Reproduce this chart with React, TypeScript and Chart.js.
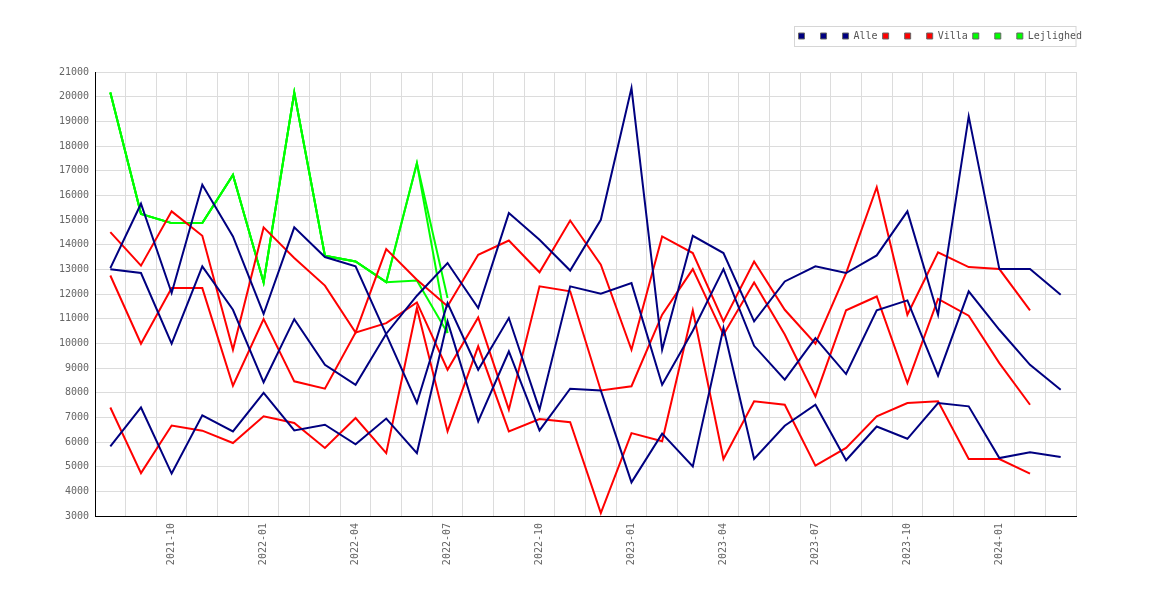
import { useEffect, useRef } from 'react'
import { Chart, registerables } from 'chart.js'

Chart.register(...registerables)

Chart.defaults.font.family = "'DejaVu Sans Mono', monospace"
Chart.defaults.font.size = 10

const MONTHS = [
  '2021-08', '2021-09', '2021-10', '2021-11', '2021-12',
  '2022-01', '2022-02', '2022-03', '2022-04', '2022-05', '2022-06',
  '2022-07', '2022-08', '2022-09', '2022-10', '2022-11', '2022-12',
  '2023-01', '2023-02', '2023-03', '2023-04', '2023-05', '2023-06',
  '2023-07', '2023-08', '2023-09', '2023-10', '2023-11', '2023-12',
  '2024-01', '2024-02', '2024-03',
]
const LABEL_MONTHS = ['01', '04', '07', '10']

const ALLE_1 = [
  13050, 15660, 12040, 16430, 14335, 11190, 14700, 13500, 13120, 10360, 7580,
  11630, 8930, 11025, 7310, 12310, 12010, 12440, 8320, 10510, 13010, 9900,
  8530, 10210, 8755, 11340, 11740, 8690, 12110, 10550, 9130, 8120,
]
const ALLE_2 = [
  13000, 12850, 9985, 13120, 11360, 8420, 10980, 9130, 8320, 10390, 11930,
  13255, 11430, 15280, 14200, 12950, 15010, 20350, 9740, 14360, 13660, 10890,
  12510, 13120, 12850, 13565, 15350, 11160, 19200, 13010, 13010, 11970,
]
const ALLE_3 = [
  5820, 7400, 4720, 7080, 6430, 7990, 6470, 6700, 5910, 6950, 5550,
  10890, 6840, 9670, 6470, 8160, 8090, 4365, 6340, 5010, 10620, 5310,
  6660, 7510, 5260, 6630, 6130, 7580, 7445, 5350, 5580, 5390,
]
const VILLA_1 = [
  14510, 13150, 15350, 14360, 9740, 14700, 13460, 12340, 10440, 13820, 12580,
  11500, 13590, 14170, 12880, 14980, 13190, 9740, 14335, 13660, 10890, 13320,
  11360, 9985, 12850, 16330, 11160, 13690, 13090, 13010, 11340, null,
]
const VILLA_2 = [
  12750, 9985, 12240, 12240, 8280, 10980, 8460, 8160, 10440, 10820, 11660,
  8930, 11050, 7310, 12310, 12110, 8090, 8260, 11160, 13010, 10350, 12470,
  10360, 7850, 11340, 11900, 8390, 11800, 11120, 9200, 7510, null,
]
const VILLA_3 = [
  7400, 4740, 6670, 6460, 5960, 7040, 6770, 5760, 6970, 5550, 11430,
  6430, 9880, 6430, 6930, 6800, 3120, 6360, 6030, 11340, 5310, 7650,
  7510, 5040, 5760, 7040, 7580, 7650, 5310, 5310, 4720, null,
]
const LEJL_1 = [
  20170, 15250, 14875, 14875, 16830, 12470, 20170, 13550, 13320, 12480, 17300,
  11840, null, null, null, null, null, null, null, null, null, null,
  null, null, null, null, null, null, null, null, null, null,
]
const LEJL_2 = [
  20170, 15250, 14875, 14875, 16830, 12470, 20170, 13550, 13320, 12480, 17300,
  10420, null, null, null, null, null, null, null, null, null, null,
  null, null, null, null, null, null, null, null, null, null,
]
const LEJL_3 = [
  20170, 15250, 14875, 14875, 16830, 12470, 20170, 13550, 13320, 12480, 12550,
  10420, null, null, null, null, null, null, null, null, null, null,
  null, null, null, null, null, null, null, null, null, null,
]

const NAVY = '#000080'
const RED = '#ff0000'
const GREEN = '#00ff00'
const GRID = '#dcdcdc'

function line(label: string, data: (number | null)[], color: string) {
  return {
    label,
    data,
    borderColor: color,
    backgroundColor: color,
    borderWidth: 2,
    pointRadius: 0,
    tension: 0,
    fill: false,
  }
}

// moves the legend into the top strip and draws the thin frame round it
const legendFrame = {
  id: 'legendFrame',
  afterLayout(chart: any) {
    const lg = chart.legend
    if (!lg) return
    const dy = 26 - lg.top
    lg.left += 11
    lg.right += 11
    lg.top += dy
    lg.bottom += dy
  },
  afterDraw(chart: any) {
    const lg = chart.legend
    const boxes = lg?.legendHitBoxes
    if (!boxes || !boxes.length) return
    const ctx = chart.ctx
    const x0 = Math.round(boxes[0].left) - 4.5
    ctx.save()
    ctx.strokeStyle = '#d6d6d6'
    ctx.lineWidth = 1
    ctx.strokeRect(x0, Math.round(lg.top) + 0.5, Math.round(chart.chartArea.right) - x0, 20)
    ctx.restore()
  },
}

export default function App() {
  const canvasRef = useRef<HTMLCanvasElement>(null)

  useEffect(() => {
    if (!canvasRef.current) return
    const chart = new Chart(canvasRef.current, {
      type: 'line',
      data: {
        labels: MONTHS,
        datasets: [
          line(' ', ALLE_1, NAVY),
          line(' ', ALLE_2, NAVY),
          line('Alle', ALLE_3, NAVY),
          line(' ', VILLA_1, RED),
          line(' ', VILLA_2, RED),
          line('Villa', VILLA_3, RED),
          line(' ', LEJL_1, GREEN),
          line(' ', LEJL_2, GREEN),
          line('Lejlighed', LEJL_3, GREEN),
        ],
      },
      options: {
        animation: false,
        responsive: true,
        maintainAspectRatio: false,
        events: [],
        layout: { padding: { top: 47, right: 94, left: 0, bottom: 0 } },
        plugins: {
          tooltip: { enabled: false },
          legend: {
            position: 'top',
            align: 'end',
            labels: {
              boxWidth: 6,
              boxHeight: 6,
              padding: 5,
              color: '#555',
              font: { size: 10 },
              generateLabels: (c: any) =>
                Chart.defaults.plugins.legend.labels
                  .generateLabels(c)
                  .map((l: any) => ({ ...l, strokeStyle: '#666', lineWidth: 1 })),
            },
          },
        },
        scales: {
          x: {
            offset: true,
            grid: { offset: true, color: GRID, drawTicks: false },
            border: { color: '#000' },
            ticks: {
              autoSkip: false,
              minRotation: 90,
              maxRotation: 90,
              padding: 7,
              color: '#666',
              callback: (_v: any, i: number) =>
                LABEL_MONTHS.includes(MONTHS[i].slice(5)) ? MONTHS[i] : '',
            },
            afterFit: (s: any) => {
              s.height = 84
            },
          },
          y: {
            min: 3000,
            max: 21000,
            grid: { color: GRID, drawTicks: false },
            border: { color: '#000' },
            ticks: {
              stepSize: 1000,
              padding: 6,
              color: '#666',
              callback: (v: any) => String(v),
            },
            afterFit: (s: any) => {
              s.width = 95
            },
          },
        },
      },
      plugins: [legendFrame],
    })
    return () => chart.destroy()
  }, [])

  return (
    <div style={{ position: 'fixed', left: 0, top: 0, width: 1170, height: 600, background: '#fff' }}>
      <canvas ref={canvasRef} />
    </div>
  )
}
